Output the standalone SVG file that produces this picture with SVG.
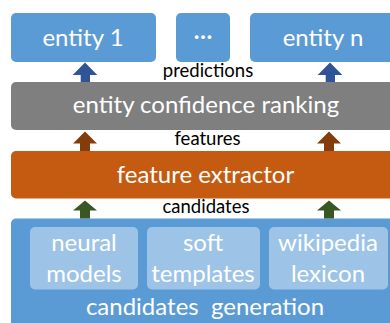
<svg xmlns="http://www.w3.org/2000/svg" width="390" height="323" viewBox="0 0 390 323">
<style>
.box{stroke:none}
.wt{font-family:Lato,"Open Sans",sans-serif;fill:#fff;text-anchor:middle;font-size:24px;white-space:pre}
.lbl{font-family:Lato,"Open Sans",sans-serif;fill:#000;text-anchor:middle;font-size:18.5px}
</style>
<rect width="390" height="323" fill="#fff"/>
<g id="entity1"><rect class="box" x="11" y="13" width="145" height="49" rx="5" fill="#5b9bd5"/><text class="wt" x="83" y="46">entity 1</text></g>
<g id="dots"><rect class="box" x="176" y="13" width="54" height="49" rx="5" fill="#5b9bd5"/><text class="wt" x="203" y="39" font-size="28" font-weight="bold">…</text></g>
<g id="entityn"><rect class="box" x="250" y="13" width="150" height="49" rx="5" fill="#5b9bd5"/><text class="wt" x="323" y="46">entity n</text></g>
<g id="ranking"><rect class="box" x="11" y="82" width="390" height="48" rx="5" fill="#7f7f7f"/><text class="wt" x="206" y="113">entity confidence ranking</text></g>
<g id="extractor"><rect class="box" x="11" y="151" width="390" height="47.5" rx="5" fill="#c55a11"/><text class="wt" x="205.5" y="183">feature extractor</text></g>
<g id="generation"><rect class="box" x="11" y="218.5" width="390" height="120" rx="5" fill="#5b9bd5"/><text class="wt" x="205" y="315" xml:space="preserve">candidates  generation</text>
<g id="neural"><rect x="30" y="227" width="108" height="62.5" rx="5" fill="#9dc3e6"/><text class="wt" x="84" y="250.5">neural</text><text class="wt" x="84" y="282">models</text></g>
<g id="soft"><rect x="147" y="227" width="113" height="62.5" rx="5" fill="#9dc3e6"/><text class="wt" x="203" y="250.5">soft</text><text class="wt" x="203" y="282">templates</text></g>
<g id="wiki"><rect x="269" y="227" width="119" height="62.5" rx="5" fill="#9dc3e6"/><text class="wt" x="328" y="250.5">wikipedia</text><text class="wt" x="328" y="282">lexicon</text></g>
</g>
<g id="connectors">
<path d="M85 62.5L97.3 75H90V82H80.7V75H72.7Z" fill="#2f5597"/>
<path d="M330 62.5L342.3 75H335V82H325.7V75H317.7Z" fill="#2f5597"/>
<path d="M85 131.5L97 143.5H90V151H80V143.5H73Z" fill="#843c0c"/>
<path d="M329 131.5L341 143.5H334V151H324V143.5H317Z" fill="#843c0c"/>
<path d="M85 200.5L97 210.5H90V218.5H80V210.5H73Z" fill="#385723"/>
<path d="M329 200.5L341 210.5H334V218.5H324V210.5H317Z" fill="#385723"/>
<text class="lbl" x="208" y="77">predictions</text>
<text class="lbl" x="207.5" y="145">features</text>
<text class="lbl" x="206" y="213">candidates</text>
</g>
</svg>
